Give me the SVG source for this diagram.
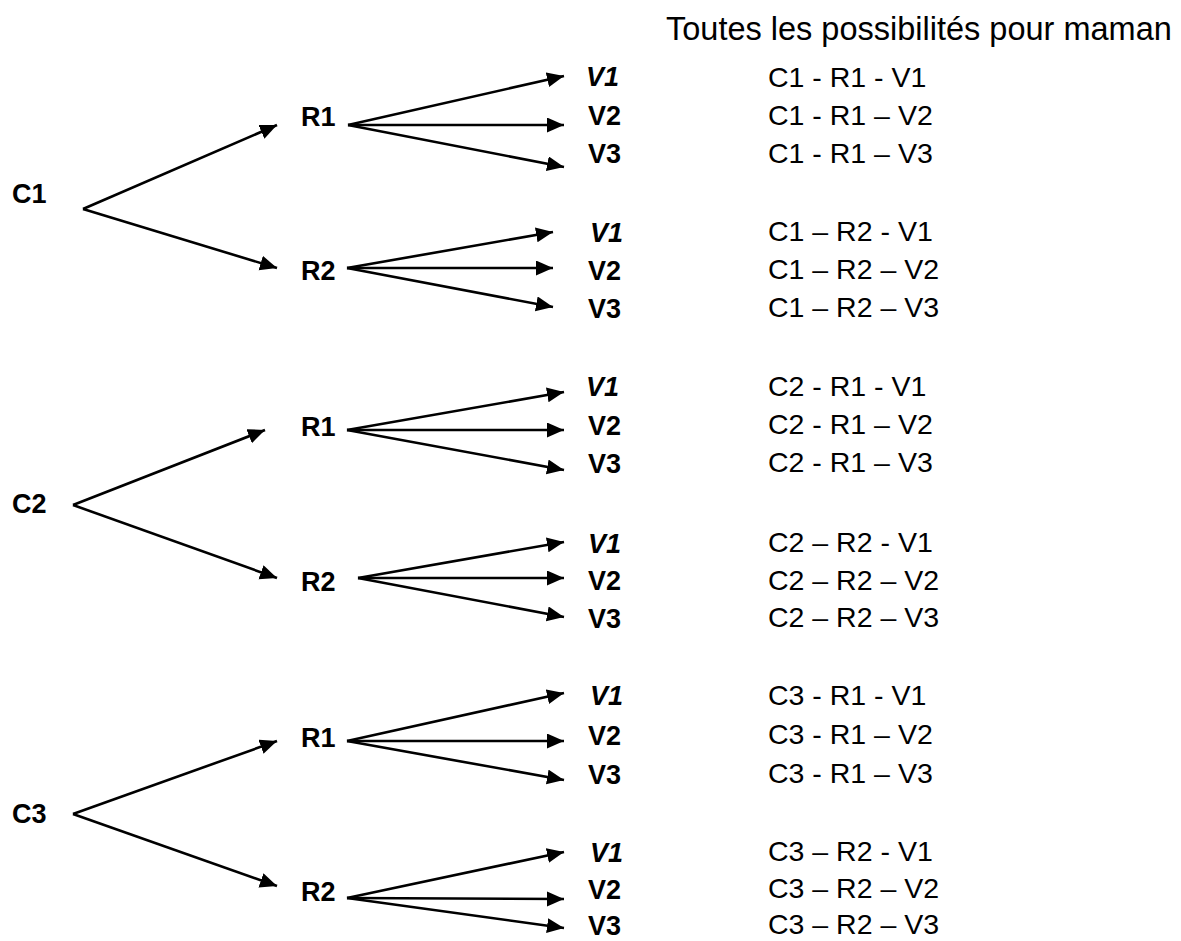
<svg xmlns="http://www.w3.org/2000/svg" width="1181" height="941" viewBox="0 0 1181 941">
<style>
.b{font-family:"Liberation Sans",Arial,sans-serif;font-weight:bold;font-size:27px;fill:#000}
.bi{font-family:"Liberation Sans",Arial,sans-serif;font-weight:bold;font-style:italic;font-size:27px;fill:#000}
.r{font-family:"Liberation Sans",Arial,sans-serif;font-size:28.5px;fill:#000}
.t{font-family:"Liberation Sans",Arial,sans-serif;font-size:32.5px;fill:#000}
.c line{stroke:#000;stroke-width:2.6;fill:none;marker-end:url(#ah)}
</style>
<defs>
<marker id="ah" markerUnits="userSpaceOnUse" markerWidth="18" markerHeight="16" refX="17" refY="7.5" orient="auto">
<path d="M0,0 L17,7.5 L0,15 z" fill="#000"/>
</marker>
</defs>
<rect width="1181" height="941" fill="#fff"/>
<text class="t" x="666" y="40">Toutes les possibilités pour maman</text>

<g id="connectors" class="c">
<line x1="83" y1="209" x2="277" y2="125"/>
<line x1="83" y1="209" x2="277" y2="268"/>
<line x1="348" y1="125" x2="564" y2="76"/>
<line x1="348" y1="125" x2="564" y2="125"/>
<line x1="348" y1="125" x2="564" y2="167"/>
<line x1="347" y1="268" x2="553" y2="232"/>
<line x1="347" y1="268" x2="553" y2="268"/>
<line x1="347" y1="268" x2="553" y2="307"/>

<line x1="73" y1="505" x2="265" y2="430"/>
<line x1="73" y1="505" x2="277" y2="578"/>
<line x1="347" y1="430" x2="564" y2="392"/>
<line x1="347" y1="430" x2="564" y2="430"/>
<line x1="347" y1="430" x2="564" y2="470"/>
<line x1="358" y1="578" x2="564" y2="542"/>
<line x1="358" y1="578" x2="564" y2="578"/>
<line x1="358" y1="578" x2="564" y2="617"/>

<line x1="73" y1="814" x2="277" y2="741"/>
<line x1="73" y1="814" x2="277" y2="886"/>
<line x1="347" y1="741" x2="564" y2="693"/>
<line x1="347" y1="741" x2="564" y2="741"/>
<line x1="347" y1="741" x2="564" y2="780"/>
<line x1="347" y1="898" x2="564" y2="852"/>
<line x1="347" y1="898" x2="564" y2="899"/>
<line x1="347" y1="898" x2="564" y2="928"/>
</g>

<g id="c1"><text class="b" x="12" y="203">C1</text></g>
<g id="c2"><text class="b" x="12" y="513">C2</text></g>
<g id="c3"><text class="b" x="12" y="823">C3</text></g>

<g id="c1r1"><text class="b" x="301" y="126">R1</text></g>
<g id="c1r2"><text class="b" x="301" y="280">R2</text></g>
<g id="c2r1"><text class="b" x="301" y="436">R1</text></g>
<g id="c2r2"><text class="b" x="301" y="591">R2</text></g>
<g id="c3r1"><text class="b" x="301" y="747">R1</text></g>
<g id="c3r2"><text class="b" x="301" y="901">R2</text></g>

<g id="c1r1v1"><text class="bi" x="586" y="86">V1</text></g>
<g id="c1r1v2"><text class="b" x="588" y="125">V2</text></g>
<g id="c1r1v3"><text class="b" x="588" y="163">V3</text></g>
<g id="c1r2v1"><text class="bi" x="590" y="242">V1</text></g>
<g id="c1r2v2"><text class="b" x="588" y="280">V2</text></g>
<g id="c1r2v3"><text class="b" x="588" y="318">V3</text></g>

<g id="c2r1v1"><text class="bi" x="586" y="396">V1</text></g>
<g id="c2r1v2"><text class="b" x="588" y="435">V2</text></g>
<g id="c2r1v3"><text class="b" x="588" y="473">V3</text></g>
<g id="c2r2v1"><text class="bi" x="588" y="553">V1</text></g>
<g id="c2r2v2"><text class="b" x="588" y="590">V2</text></g>
<g id="c2r2v3"><text class="b" x="588" y="628">V3</text></g>

<g id="c3r1v1"><text class="bi" x="590" y="705">V1</text></g>
<g id="c3r1v2"><text class="b" x="588" y="745">V2</text></g>
<g id="c3r1v3"><text class="b" x="588" y="784">V3</text></g>
<g id="c3r2v1"><text class="bi" x="590" y="862">V1</text></g>
<g id="c3r2v2"><text class="b" x="588" y="899">V2</text></g>
<g id="c3r2v3"><text class="b" x="588" y="935">V3</text></g>

<g id="list">
<text class="r" x="768" y="87">C1 - R1 - V1</text>
<text class="r" x="768" y="125">C1 - R1 – V2</text>
<text class="r" x="768" y="163">C1 - R1 – V3</text>
<text class="r" x="768" y="241">C1 – R2 - V1</text>
<text class="r" x="768" y="279">C1 – R2 – V2</text>
<text class="r" x="768" y="317">C1 – R2 – V3</text>
<text class="r" x="768" y="396">C2 - R1 - V1</text>
<text class="r" x="768" y="434">C2 - R1 – V2</text>
<text class="r" x="768" y="472">C2 - R1 – V3</text>
<text class="r" x="768" y="552">C2 – R2 - V1</text>
<text class="r" x="768" y="590">C2 – R2 – V2</text>
<text class="r" x="768" y="627">C2 – R2 – V3</text>
<text class="r" x="768" y="705">C3 - R1 - V1</text>
<text class="r" x="768" y="744">C3 - R1 – V2</text>
<text class="r" x="768" y="783">C3 - R1 – V3</text>
<text class="r" x="768" y="861">C3 – R2 - V1</text>
<text class="r" x="768" y="898">C3 – R2 – V2</text>
<text class="r" x="768" y="934">C3 – R2 – V3</text>
</g>
</svg>
